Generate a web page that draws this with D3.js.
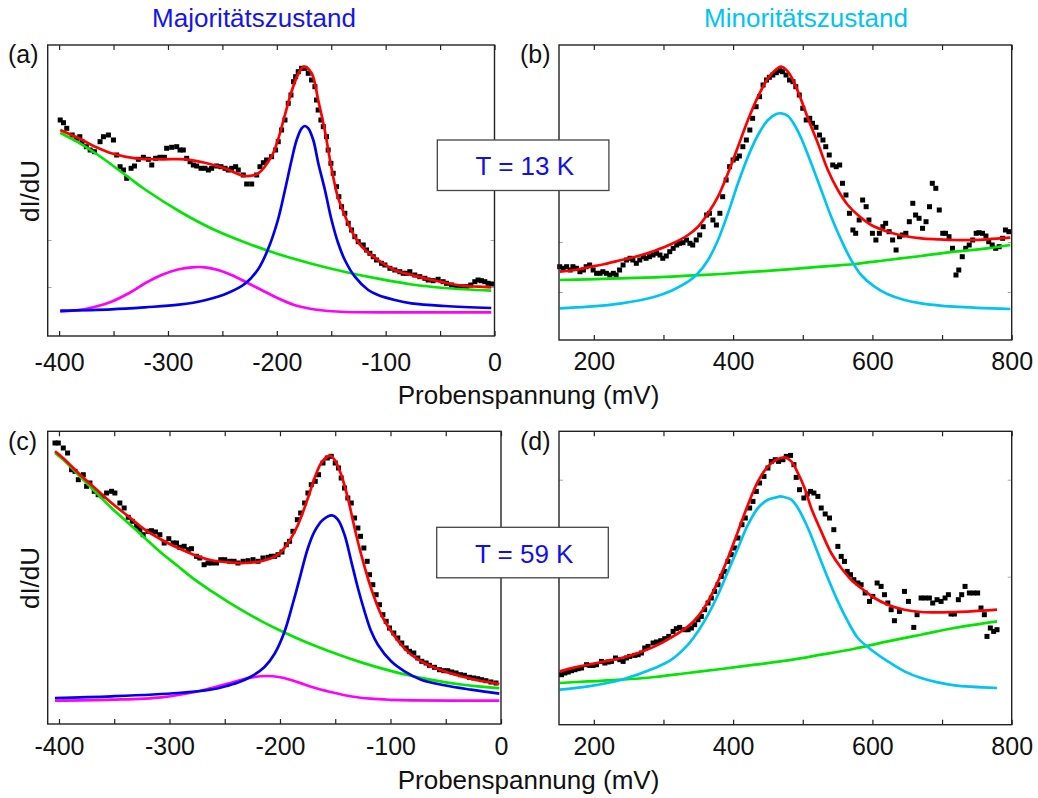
<!DOCTYPE html>
<html><head><meta charset="utf-8">
<script src="https://cdn.jsdelivr.net/npm/d3@7"></script>
<style>body{margin:0;background:#fff}svg{display:block}text{font-family:"Liberation Sans",Arial,sans-serif}</style>
</head><body><svg id="c" width="1038" height="798"></svg>
<script>
// ---------- data (x in mV, y in arbitrary units) ----------
const a_data=[[-399,216],[-396,213.3],[-393,207.7],[-388,201],[-384,197.7],[-381,199.3],[-379,194.3],[-375,189.3],[-371.5,186],[-367.6,184.3],[-362.4,194.3],[-359.3,199.3],[-354.7,201],[-350.1,196],[-347.1,181],[-344,169.3],[-340.9,166],[-337.9,157.7],[-333.9,167.7],[-330.8,170],[-327.2,176.7],[-322.6,178.7],[-318,176.7],[-314.9,171],[-311.3,177.7],[-307.3,178.7],[-303.3,178.7],[-301.2,187.7],[-296.6,188.7],[-292,189.3],[-288.9,186],[-285.9,186],[-282.8,177.7],[-279.7,174.3],[-276.7,171],[-273.6,170],[-269.6,167.7],[-266,167.7],[-262.9,166],[-259.9,167.7],[-255.3,170],[-251.3,169.3],[-247.6,167.7],[-244.6,166],[-241.5,167.7],[-237.8,169.3],[-235.4,166],[-230.8,161],[-227.7,152],[-223.1,152],[-218.5,161],[-215.5,169.3],[-212.4,173.3],[-209.4,176],[-204.8,179.3],[-201.1,186],[-198.7,194.3],[-195.6,206],[-192.5,216],[-189.5,232.7],[-187,241],[-184.6,254.3],[-182.7,259.3],[-180.3,264.3],[-177.2,267.7],[-174.2,267.7],[-171.1,262.7],[-168.1,256],[-165,249.3],[-163.5,236],[-162,226],[-159.5,216],[-157.3,209.3],[-154.3,199.3],[-152.8,186],[-150.3,172.7],[-148.2,162.7],[-145.1,149.3],[-143,139.3],[-140.5,129.3],[-137.5,122.7],[-134.4,112.7],[-131.3,106],[-128.3,99.3],[-125.2,94.3],[-120.6,91],[-117.6,86],[-114.5,82.7],[-111.4,79.3],[-108.4,76],[-103.8,72.7],[-100.7,71],[-96.1,67.7],[-91.6,66],[-87,64.3],[-83.9,62.7],[-80.8,62.7],[-77.8,64.3],[-73.2,61],[-68.6,59.3],[-64,57.7],[-60.9,56],[-56.4,55.3],[-51.8,56.7],[-47.2,54.3],[-44.1,52.7],[-39.5,51],[-35,49.3],[-30.4,49.3],[-25.8,49.3],[-21.8,51],[-18.1,54.3],[-15.1,56],[-12,55.3],[-8.9,54.3],[-5.9,52.7],[-2.8,52]];
const a_fit=[[-399,206],[-382,197.7],[-367,189.3],[-352,182.7],[-330,177.7],[-306,176.7],[-284,176.7],[-266,173.3],[-248,167.7],[-229,160],[-217,162.7],[-205,179.3],[-199,196],[-193,219.3],[-186,246],[-180,262.7],[-175,269.3],[-168,262.7],[-162,236],[-156,206],[-150,169.3],[-144,139.3],[-137,119.3],[-131,104.3],[-122,89.3],[-107,76],[-92,66],[-76,61],[-61,56.7],[-46,53.3],[-30,50.3],[-15,49.3],[-3,48.7]];
const a_bg=[[-399,203.3],[-382,193.3],[-367,183],[-352,171.5],[-336,158.5],[-321,146.5],[-290,125],[-260,107.5],[-229,93.5],[-199,82],[-168,72.3],[-137,64],[-107,57.3],[-76,51.5],[-46,48],[-3,45.3]];
const a_peak=[[-399,25.3],[-352,26.7],[-321,28.7],[-290,31.3],[-266,35.8],[-245,43],[-229,52.5],[-217,67],[-208,87],[-199,116],[-192.5,146],[-186.4,176],[-181.8,196],[-177.2,207.7],[-174.2,210],[-171.1,207.7],[-166.5,196],[-161.9,172.7],[-155.8,146],[-149.7,116],[-143.6,92.7],[-137.5,76],[-128.3,59.3],[-116,46],[-107,41],[-91.6,36],[-76.3,32.7],[-45.7,30],[-3,28]];
const a_peak2=[[-399,24.3],[-382,26],[-367,29.3],[-352,34.3],[-336,42.7],[-321,52.7],[-306,61],[-290,66.7],[-278,68.7],[-266,68.7],[-254,66],[-241.6,61],[-229,54.3],[-214,46],[-199,37.7],[-184,31],[-168,27],[-153,25],[-137,24],[-3,23.7]];

const b_data=[[151,73.3],[156,71.7],[161,73.3],[166,70],[170,73.3],[175,71.7],[180,68.3],[185,70],[189,73.3],[194,75],[199,70],[204,66.7],[209,66.7],[213,68.3],[218,66.7],[223,65],[228,66.7],[232,65],[237,70],[242,75],[247,80],[252,81.7],[256,80],[261,76.7],[266,80],[271,83.3],[275,81.7],[280,83.3],[285,85],[290,86.7],[295,85],[299,81.7],[304,84],[309,88.3],[314,91.7],[319,95],[323,96.7],[328,97.3],[333,100],[338,96.7],[342,95],[347,100],[352,105],[357,113.3],[362,125],[366,126.7],[371,120],[376,115],[381,126.7],[385,143.3],[390,160],[395,173.3],[400,180],[405,181.7],[409,184],[414,193.3],[419,200],[424,210],[428,221.7],[433,233.3],[438,243.3],[443,255],[448,260],[452,262.7],[457,265],[462,267.3],[467,269.3],[471,268.3],[476,265],[481,260],[486,258.3],[490,253.3],[495,245],[500,231.7],[505,220],[510,221.7],[514,216.7],[519,212.7],[524,205],[529,200],[533,193.3],[538,185],[543,175],[548,173.3],[553,175],[557,156.7],[562,145],[567,126.7],[572,110],[576,106.7],[581,120],[586,140],[591,133.3],[595,120],[600,106.7],[605,100],[610,106.7],[615,113.3],[619,116.7],[624,108.3],[629,100],[634,90],[639,103.3],[643,105],[648,106.7],[653,118.3],[658,136.7],[662,125],[667,121.7],[672,111.7],[677,118.3],[682,133.3],[686,156.7],[691,151.7],[696,130],[701,106.7],[705,106.7],[710,103.3],[715,91.7],[720,65],[724,70],[729,83.3],[734,91.7],[739,95],[744,100],[749,106.7],[753,107.3],[758,106.7],[763,104],[767,98.3],[772,95],[777,91.7],[782,93.3],[787,101.7],[791,110],[796,108.3]];
const b_fit=[[151.2,68.3],[172.8,70],[191.9,72.7],[215.8,76],[239.7,80],[263.6,84],[287.5,89.3],[311.4,96],[335.3,105],[349.6,113.3],[364,126.7],[378.3,143.3],[392.6,166.7],[407,193.3],[421.3,220],[435.7,243.3],[450,261.7],[462,270.7],[469.1,273.3],[478.7,268.3],[488.2,256.7],[497.8,240],[507.4,221.7],[521.7,196.7],[536,170],[550.4,150],[564.7,135],[579.1,125],[598.2,115],[622.1,108.3],[646,104],[669.9,101.7],[693.8,100.7],[717.7,100],[741.6,100],[765.5,100.7],[798,102.3]];
const b_bg=[[151.2,60],[191.9,60.7],[239.7,61.7],[287.5,62.7],[335.3,64.3],[383.1,66],[430.9,68.3],[478.7,70.7],[526.5,73.3],[574.3,76],[622.1,80],[669.9,84],[717.7,88.3],[765.5,91.7],[798,95]];
const b_peak=[[151.2,31.7],[191.9,33.3],[239.7,36.7],[287.5,43.3],[311.4,49.3],[335.3,58.3],[349.6,66.7],[364,80],[378.3,100],[392.6,126.7],[407,156.7],[421.3,183.3],[435.7,205],[450,220],[462,226],[469.1,226.7],[478.7,224],[488.2,215],[497.8,201.7],[512.1,176.7],[526.5,150],[540.8,123.3],[555.2,100],[569.5,80],[583.8,65],[603,53.3],[622.1,45.7],[646,40],[669.9,36.7],[717.7,33.3],[798,31]];

const c_data=[[-403.6,281],[-400.6,281],[-396.1,276],[-392.2,271],[-388.6,254.3],[-385.5,252.7],[-382.5,244.3],[-378,249.3],[-375,237.7],[-372,241],[-368.1,232.7],[-364.5,229.3],[-360.8,227.7],[-356.9,231],[-352.4,232.7],[-349.4,231],[-344.9,221],[-341,216],[-337.3,206.7],[-333.7,202.7],[-329.8,197.7],[-326.8,194.3],[-323.8,189.3],[-319.3,192.7],[-316.3,193.3],[-312.7,192],[-308.7,189.3],[-304.8,181],[-300.6,185.3],[-296.7,181],[-293.7,181],[-290.7,176.7],[-286.7,177.7],[-283.1,174.3],[-280.1,175.3],[-275.6,167.7],[-272.6,166],[-268.7,159.3],[-265.1,161],[-262,161],[-257.5,161],[-253.6,164.3],[-250,164.3],[-245.5,162.7],[-241.6,162.7],[-238,161],[-233.4,162.7],[-228.9,163.3],[-224.4,164.3],[-219.9,162.7],[-215.4,166],[-210.8,166.7],[-207.8,167.7],[-204.8,167.7],[-201.8,169.3],[-198.2,172],[-194.3,179.3],[-191.3,182.7],[-188.3,192.7],[-184.3,204.3],[-181.3,211],[-177.7,221],[-174.7,231],[-171.7,239.3],[-168.1,242.7],[-165.1,249.3],[-161.1,261],[-157.2,266],[-153.6,267.7],[-150,261],[-147,256],[-144.6,246],[-141.6,236],[-138.6,226],[-135.5,221],[-132.5,206],[-129.5,196],[-127.1,187.7],[-124.1,176],[-121.1,162.7],[-119,149.3],[-116,139.3],[-113,129.3],[-110,119.3],[-106.9,109.3],[-103.9,102.7],[-100.9,96],[-97,91],[-93.4,86],[-89.8,81],[-85.8,76],[-82.8,72.7],[-78.9,71],[-75.3,66],[-71.7,62.7],[-67.8,61],[-64.8,58.7],[-60.2,56.7],[-55.7,54.3],[-51.8,53.3],[-48.2,53.3],[-44.6,52],[-40.7,51],[-36.7,49.3],[-33.1,48.7],[-28.6,46.7],[-24.7,46],[-21.1,45.3],[-17.5,44.3],[-13.6,43.3],[-9.1,42],[-4.5,41]];
const c_fit=[[-403.6,272.7],[-394.6,264.3],[-382.5,251],[-367.5,236],[-352.4,221],[-337.3,207.7],[-322.3,194.3],[-307.2,184.3],[-292.2,176],[-277.1,168.7],[-262,163.7],[-247,161.7],[-231.9,161],[-216.9,162.7],[-201.8,169.3],[-192.8,181],[-183.7,199.3],[-174.7,226],[-168.7,246],[-162.7,261],[-156.6,267.7],[-154.2,268.3],[-150.6,264.3],[-144.6,249.3],[-138.6,226],[-132.5,196],[-126.5,169.3],[-120.5,146],[-114.5,126],[-108.4,109.3],[-99.4,92.7],[-90.4,79.3],[-81.3,69.3],[-66.3,59.3],[-51.2,52.7],[-36.1,47.7],[-21.1,43.7],[-1.5,40]];
const c_bg=[[-403.6,271],[-394.6,262.7],[-382.5,249.3],[-367.5,232.7],[-352.4,216],[-337.3,201],[-322.3,186],[-307.2,171],[-292.2,157.7],[-277.1,144.3],[-262,132.8],[-247,122.1],[-231.9,112.1],[-216.9,102.9],[-201.8,94.5],[-186.7,86.8],[-171.7,79.7],[-156.6,73.2],[-141.6,67.2],[-126.5,61.6],[-111.4,56.6],[-96.4,52.1],[-81.3,48.2],[-66.3,44.8],[-51.2,41.9],[-36.1,39.5],[-21.1,37.6],[-1.5,35.8]];
const c_peak=[[-403.6,26],[-352.4,27.7],[-292.2,31],[-262,34.5],[-250,37.5],[-238,41.5],[-226,47.5],[-214,57],[-205,70],[-196,92],[-188,122],[-183.7,139.3],[-174.7,176],[-168.7,192.7],[-161.1,204.3],[-153,208.7],[-147.6,204.3],[-141.6,189.3],[-135.5,162.7],[-129.5,136],[-123.5,112.7],[-117.5,92.7],[-111.4,79.3],[-99.4,62.7],[-87.3,52.7],[-72.3,44.3],[-51.2,38.7],[-27.1,34.3],[-1.5,30.3]];
const c_peak2=[[-403.6,23.3],[-352.4,24.3],[-307.2,26.7],[-277.1,32],[-262,36],[-247,40.5],[-235,44.3],[-223,47.2],[-212,48],[-201,47],[-190,44],[-178,39.5],[-165,35],[-150,31],[-135,27.5],[-118,25.3],[-100,24.2],[-80,23.6],[-1.5,23.3]];

const d_data=[[153.6,50],[158.4,51.7],[163.2,52.7],[168,54],[172.8,55],[177.5,56],[182.3,56.7],[189.5,60],[194.3,59.3],[199,59.3],[203.8,60],[211,63.3],[215.8,61.7],[220.6,62.7],[225.3,63.3],[231.1,66.7],[237.3,65],[242.1,63.3],[246.8,66.7],[251.6,68.3],[258.8,69.3],[263.6,70],[268.4,71.7],[273.1,76.7],[277.9,78.3],[285.1,81.7],[289.9,82.7],[296.1,84],[301.8,86],[307.6,88.3],[313.8,93.3],[318.5,96],[323.3,97.3],[330.5,95],[335.3,95],[340.1,96.7],[344.8,100],[349.6,105],[354.4,108.3],[359.2,115],[364,121.7],[368.7,126.7],[373.5,133.3],[378.3,140],[383.1,148.3],[387.9,153.3],[392.6,163.3],[397.4,170],[402.2,176.7],[407,186.7],[412.7,200],[417.5,206.7],[423.7,216.7],[428.5,223.3],[433.3,233.3],[438,241.7],[444.3,248.3],[450,256.7],[454.8,263.3],[460.5,265],[465.3,263.3],[471.5,265],[476.3,268.3],[482.5,269.3],[487.3,260],[490.6,247.3],[495.4,235],[501.6,226.7],[506.4,230.7],[511.2,233.3],[516,231.7],[521.7,228.3],[526.5,216.7],[532.2,210.7],[538.4,206.7],[544.6,195],[550.4,178.3],[555.2,168.3],[559.9,163.3],[563.8,153.3],[568.5,150],[573.3,145],[579.1,141.7],[583.8,140],[589.6,131.7],[595.8,123.3],[600.6,128.3],[606.8,141.7],[612.5,138.3],[617.3,130],[622.1,121.7],[626.9,115],[631.6,104],[638.8,113.3],[646,133.3],[651.7,123.3],[659.4,97.3],[664.1,110],[669.9,126.7],[675.6,126.7],[681.8,126.7],[686.6,121.7],[692.8,125],[698.6,123.3],[704.3,126.7],[709.1,130],[712.9,110.7],[717.7,110.7],[723.4,125],[728.2,130],[733,138.3],[739.2,131.7],[745.4,131.7],[751.1,131.7],[755.9,116.7],[760.7,110],[764.5,88.3],[769.3,96.7],[774.1,93.3],[778.9,95]];
const d_fit=[[151.2,53.3],[172.8,57.3],[191.9,60],[215.8,63.3],[239.7,66.7],[263.6,71.7],[287.5,78.3],[311.4,87.3],[335.3,98.3],[349.6,108.3],[364,123.3],[378.3,143.3],[392.6,166.7],[407,193.3],[421.3,220],[435.7,243.3],[450,258.3],[462,265],[473.9,267.3],[483.5,263.3],[493,251.7],[502.6,236.7],[512.1,216.7],[526.5,193.3],[540.8,171.7],[555.2,156.7],[569.5,145],[583.8,136.7],[603,126.7],[622.1,120],[646,115],[669.9,112.7],[693.8,112.3],[717.7,112.7],[741.6,113.3],[765.5,114.3],[778.9,115]];
const d_bg=[[151.2,41.7],[191.9,43.3],[239.7,45],[287.5,47.7],[335.3,51.7],[383.1,55.7],[430.9,60],[478.7,64.3],[526.5,70],[574.3,76],[622.1,83.3],[669.9,90],[717.7,96.7],[778.9,103.3]];
const d_peak=[[151.2,35],[191.9,38.3],[239.7,45],[287.5,56.7],[311.4,65],[335.3,80],[349.6,93.3],[364,110],[378.3,130],[392.6,153.3],[407,176.7],[421.3,200],[435.7,216.7],[450,225],[462,227.3],[467.2,228.3],[473,227.7],[483.5,225],[493,216.7],[507.4,196.7],[521.7,171.7],[536,146.7],[550.4,123.3],[564.7,103.3],[579.1,86.7],[598.2,75],[622.1,63.3],[646,53.3],[669.9,46.7],[693.8,42.3],[717.7,39.3],[778.9,36.7]];

const majorTicksMaj=[-400,-300,-200,-100,0], minorTicksMaj=[-350,-250,-150,-50];
const majorTicksMin=[200,400,600,800], minorTicksMin=[300,500,700];
const yTicksA=[49,96], yTicksB=[48,98], yTicksD=[148,245];
const titles=["Majoritätszustand","Minoritätszustand"];
const tempLabels=["T = 13 K","T = 59 K"];
const yLabel="dI/dU", xLabel="Probenspannung (mV)";

// ---------- drawing ----------
const RED="#ff0000",GREEN="#00e600",BLUE="#0000f0",MAG="#ff00ff",CYAN="#00c4f4";
const svg=d3.select('#c');

const panels=[
 {L:47.7,R:494.5,T:45,B:336,xd:[-410.5,0],ymax:291,data:a_data,lines:[[a_bg,GREEN],[a_peak2,MAG],[a_peak,BLUE],[a_fit,RED]],maj:majorTicksMaj,min:minorTicksMaj,yt:yTicksA,lab:371,letter:"(a)",lx:8,ly:63},
 {L:559,R:1011.7,T:45,B:340,xd:[150,800],ymax:295,data:b_data,lines:[[b_bg,GREEN],[b_peak,CYAN],[b_fit,RED]],maj:majorTicksMin,min:minorTicksMin,yt:yTicksB,lab:370,letter:"(b)",lx:520,ly:63},
 {L:47.7,R:501,T:431.3,B:724,xd:[-410.2,0],ymax:292.7,data:c_data,lines:[[c_bg,GREEN],[c_peak2,MAG],[c_peak,BLUE],[c_fit,RED]],maj:majorTicksMaj,min:minorTicksMaj,yt:[],lab:755,letter:"(c)",lx:8,ly:450},
 {L:559,R:1011.7,T:431.3,B:724.7,xd:[150,800],ymax:293.4,data:d_data,lines:[[d_bg,GREEN],[d_peak,CYAN],[d_fit,RED]],maj:majorTicksMin,min:minorTicksMin,yt:yTicksD,lab:755,letter:"(d)",lx:520,ly:450}
];

panels.forEach(p=>{
  const x=d3.scaleLinear().domain(p.xd).range([p.L,p.R]);
  const y=d3.scaleLinear().domain([0,p.ymax]).range([p.B,p.T]);
  const g=svg.append('g');
  const ticks=p.maj.concat(p.min);
  const bx=g.append('g').attr('transform',`translate(0,${p.B})`)
    .call(d3.axisBottom(x).tickValues(ticks).tickSize(-5).tickFormat(d=>p.maj.includes(d)?String(d):''));
  bx.select('.domain').remove();
  bx.selectAll('line').attr('stroke','#222').attr('stroke-width',1.2);
  bx.selectAll('text').attr('dy',null).attr('y',p.lab-p.B).attr('font-size',25).attr('fill','#111')
    .attr('font-family','"Liberation Sans",Arial,sans-serif');
  const tx=g.append('g').attr('transform',`translate(0,${p.T})`)
    .call(d3.axisTop(x).tickValues(ticks).tickSize(-5).tickFormat(''));
  tx.select('.domain').remove();
  tx.selectAll('line').attr('stroke','#222').attr('stroke-width',1.2);
  if(p.yt.length){
    const ly=g.append('g').attr('transform',`translate(${p.L},0)`).call(d3.axisLeft(y).tickValues(p.yt).tickSize(-4).tickFormat(''));
    ly.select('.domain').remove(); ly.selectAll('line').attr('stroke','#aaa');
    const ry=g.append('g').attr('transform',`translate(${p.R},0)`).call(d3.axisRight(y).tickValues(p.yt).tickSize(-4).tickFormat(''));
    ry.select('.domain').remove(); ry.selectAll('line').attr('stroke','#aaa');
  }
  // data squares
  const s=5;
  g.append('g').selectAll('rect').data(p.data).join('rect')
    .attr('x',d=>x(d[0])-s/2).attr('y',d=>y(d[1])-s/2).attr('width',s).attr('height',s).attr('fill','#000');
  const line=d3.line().x(d=>x(d[0])).y(d=>y(d[1])).curve(d3.curveCatmullRom.alpha(0.5));
  p.lines.forEach(([arr,col])=>{
    g.append('path').attr('d',line(arr)).attr('fill','none').attr('stroke',col).attr('stroke-width',2.7).attr('stroke-linejoin','round');
  });
  g.append('rect').attr('x',p.L).attr('y',p.T).attr('width',p.R-p.L).attr('height',p.B-p.T)
    .attr('fill','none').attr('stroke','#222').attr('stroke-width',1.4);
  svg.append('text').attr('x',p.lx).attr('y',p.ly).attr('font-size',25).attr('fill','#111').text(p.letter);
});

// titles
svg.append('text').attr('x',254).attr('y',27).attr('text-anchor','middle').attr('font-size',26).attr('fill','#1414f0').text(titles[0]);
svg.append('text').attr('x',806).attr('y',27).attr('text-anchor','middle').attr('font-size',26).attr('fill',CYAN).text(titles[1]);
// axis labels
[191,578].forEach(cy=>{
  svg.append('text').attr('transform',`translate(39,${cy}) rotate(-90)`).attr('text-anchor','middle').attr('font-size',26).attr('fill','#111').text(yLabel);
});
[404,789].forEach(by=>{
  svg.append('text').attr('x',528.5).attr('y',by).attr('text-anchor','middle').attr('font-size',26).attr('fill','#111').text(xLabel);
});
// temperature boxes
[[437.3,140,tempLabels[0],175],[436.7,527.3,tempLabels[1],563]].forEach(([bx,by,t,ty])=>{
  svg.append('rect').attr('x',bx).attr('y',by).attr('width',171.6).attr('height',50.5).attr('fill','#fff').attr('stroke','#444').attr('stroke-width',1.3);
  svg.append('text').attr('x',bx+87.5).attr('y',ty).attr('text-anchor','middle').attr('font-size',26).attr('fill','#1010ee').text(t);
});
</script></body></html>
